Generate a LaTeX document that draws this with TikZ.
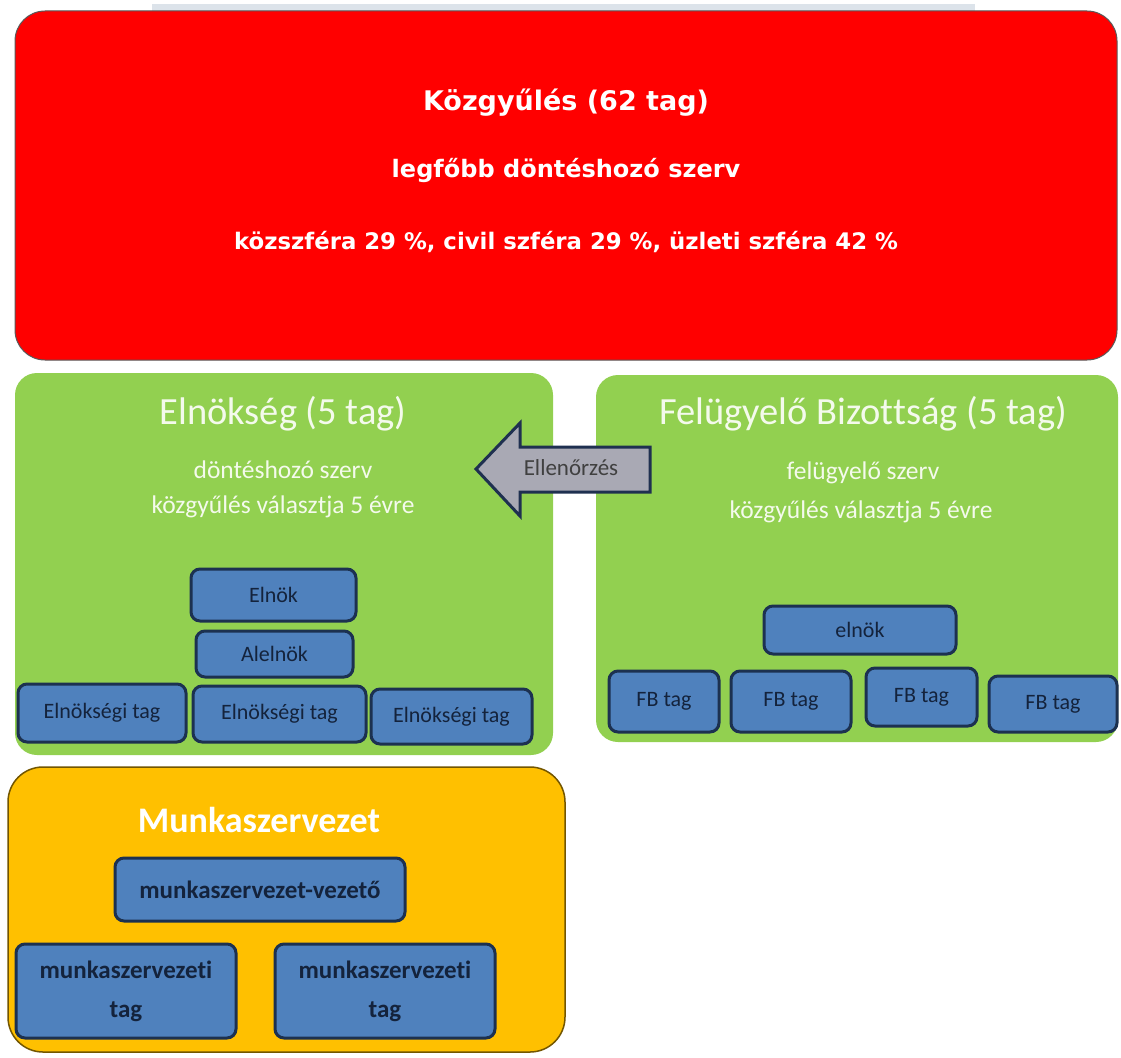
\documentclass[tikz,border=0pt]{standalone}
\usepackage{fontspec}
\setmainfont{Carlito}[Ligatures={NoCommon}]
\newfontfamily\verd{DejaVu Sans}
\definecolor{kred}{HTML}{FF0000}
\definecolor{kgreen}{HTML}{92D050}
\definecolor{korange}{HTML}{FFC000}
\definecolor{kblue}{HTML}{4F81BD}
\definecolor{kblueb}{HTML}{1C3150}
\definecolor{ktxt}{HTML}{14233C}
\definecolor{kgreytop}{HTML}{DCE3EA}
\definecolor{karrow}{HTML}{A9A9B4}
\definecolor{karrowb}{HTML}{1F3050}
\definecolor{kwhite}{HTML}{F4FAEC}
\begin{document}
\begin{tikzpicture}[x=1pt,y=-1pt,
  panel/.style={rounded corners=#1, inner sep=0pt},
  bbox/.style={draw=kblueb, line width=3pt, fill=kblue, rounded corners=9pt, inner sep=0pt, text=ktxt, font=\fontsize{22}{26}\selectfont, align=center},
  mbox/.style={bbox, font=\fontsize{25}{39}\selectfont\bfseries},
  toptxt/.style={text=white, font=\verd\bfseries\fontsize{#1}{#1}\selectfont},
  gtxt/.style={text=kwhite, font=\fontsize{#1}{#1}\selectfont}
]
\useasboundingbox (0,0) rectangle (1121,1057);
\fill[white] (0,0) rectangle (1121,1057);
\fill[kgreytop] (152,4) rectangle (975,12);
% Kozgyules
\node[panel=30pt, draw=gray!70!black, line width=1pt, fill=kred, minimum width=1102pt, minimum height=349pt] (kgy) at (566,185.5) {};
\node[toptxt=27] (kgy1) at (566,103) {Közgyűlés (62 tag)};
\node[toptxt=24] (kgy2) at (566,170) {legfőbb döntéshozó szerv};
\node[toptxt=22.8] (kgy3) at (566,242) {közszféra 29 \%, civil szféra 29 \%, üzleti szféra 42 \%};
% Elnokseg
\node[panel=22pt, fill=kgreen, minimum width=538pt, minimum height=382pt] (eln) at (284,564) {};
\node[gtxt=38.5] (eln1) at (283,414) {Elnökség (5 tag)};
\node[gtxt=25.5] (eln2) at (283,470) {döntéshozó szerv};
\node[gtxt=25.5] (eln3) at (283,507) {közgyűlés választja 5 évre};
% FB
\node[panel=22pt, fill=kgreen, minimum width=522pt, minimum height=367pt] (fb) at (857,558.5) {};
\node[gtxt=38.5] (fb1) at (863,414) {Felügyelő Bizottság (5 tag)};
\node[gtxt=25.5] (fb2) at (863,473) {felügyelő szerv};
\node[gtxt=25.5] (fb3) at (861,512) {közgyűlés választja 5 évre};
% Arrow
\draw[karrowb, line width=3pt, fill=karrow, line join=miter] (650,447) -- (520,447) -- (520,423) -- (476,469) -- (520,516) -- (520,492) -- (650,492) -- cycle;
\node[text=black!75, font=\fontsize{23}{23}\selectfont] (ell) at (571,468) {Ellenőrzés};
% Elnokseg boxes
\node[bbox, minimum width=165pt, minimum height=52pt] (e1) at (273.5,595) {Elnök};
\node[bbox, minimum width=157pt, minimum height=46pt] (e2) at (274.5,654) {Alelnök};
\node[bbox, minimum width=168pt, minimum height=58pt] (e3) at (102,713) {Elnökségi tag};
\node[bbox, minimum width=173pt, minimum height=56pt] (e4) at (279.5,714) {Elnökségi tag};
\node[bbox, minimum width=161pt, minimum height=55pt] (e5) at (451.5,716.5) {Elnökségi tag};
% FB boxes
\node[bbox, minimum width=192pt, minimum height=48pt] (f1) at (860,630) {elnök};
\node[bbox, minimum width=110pt, minimum height=61pt] (f2) at (664,701.5) {FB tag};
\node[bbox, minimum width=120pt, minimum height=61pt] (f3) at (791,701.5) {FB tag};
\node[bbox, minimum width=111pt, minimum height=58pt] (f4) at (921.5,697) {FB tag};
\node[bbox, minimum width=128pt, minimum height=56pt] (f5) at (1053,704) {FB tag};
% Munkaszervezet
\node[panel=35pt, draw=black!55!korange, line width=1.5pt, fill=korange, minimum width=557pt, minimum height=285pt] (msz) at (286.5,909.5) {};
\node[text=white, font=\fontsize{36}{36}\selectfont\bfseries] (msz1) at (259,820) {Munkaszervezet};
\node[mbox, minimum width=290pt, minimum height=63pt] (m1) at (260,889.5) {munkaszervezet-vezető};
\node[mbox, minimum width=220pt, minimum height=94pt] (m2) at (126,991) {munkaszervezeti\\tag};
\node[mbox, minimum width=220pt, minimum height=94pt] (m3) at (385,991) {munkaszervezeti\\tag};
\end{tikzpicture}
\end{document}
